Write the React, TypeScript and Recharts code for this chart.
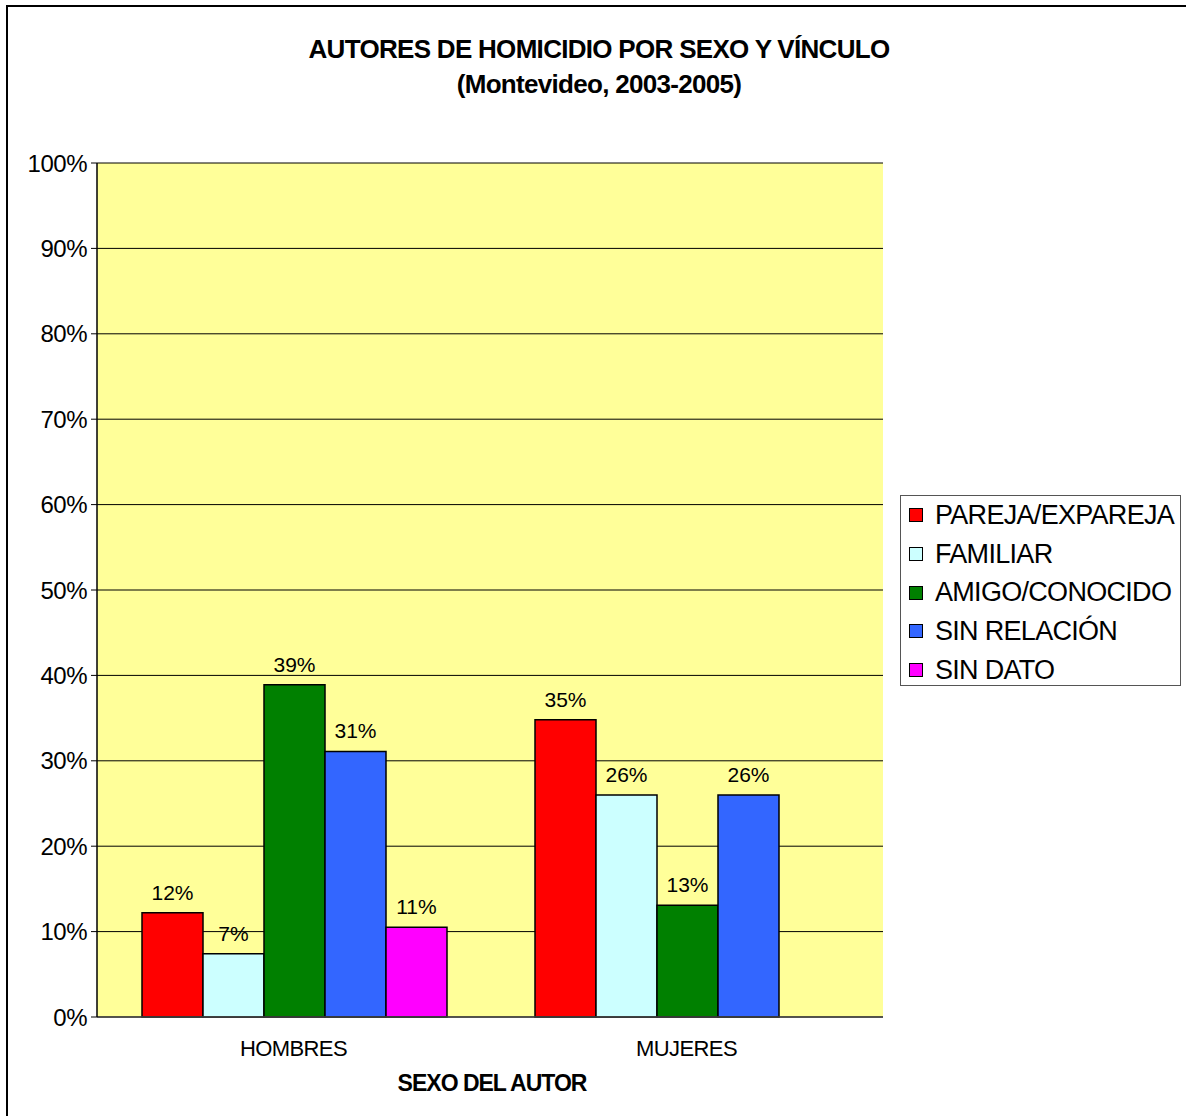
import React from "react"
import {
  Bar,
  BarChart,
  CartesianGrid,
  LabelList,
  XAxis,
  YAxis,
} from "recharts"

const categories = ["HOMBRES", "MUJERES"]

const seriesNames = [
  "PAREJA/EXPAREJA",
  "FAMILIAR",
  "AMIGO/CONOCIDO",
  "SIN RELACIÓN",
  "SIN DATO",
]
const seriesKeys = ["pareja", "familiar", "amigo", "sinRelacion", "sinDato"]
const seriesColors = ["#FF0000", "#CCFFFF", "#008000", "#3366FF", "#FF00FF"]

// percent values per sex, in category order
const pareja = [12.2, 34.8]
const familiar = [7.4, 26.0]
const amigo = [38.9, 13.1]
const sinRelacion = [31.1, 26.0]
const sinDato = [10.5, null]

const yTicks = [0, 10, 20, 30, 40, 50, 60, 70, 80, 90, 100]

const seriesValues = [pareja, familiar, amigo, sinRelacion, sinDato]

const data = categories.map((name, i) => {
  const row: Record<string, any> = { name, pos: i + 0.5 }
  seriesKeys.forEach((k, s) => {
    row[k] = seriesValues[s][i]
  })
  return row
})

const FONT = '"Liberation Sans", Arial, sans-serif'

function Legend() {
  return (
    <div
      style={{
        position: "absolute",
        left: 900,
        top: 495,
        width: 281,
        height: 191,
        border: "1px solid #555",
        background: "#fff",
        boxSizing: "border-box",
        paddingTop: 0,
      }}
    >
      {seriesNames.map((n, i) => (
        <div
          key={n}
          style={{
            display: "flex",
            alignItems: "center",
            height: 38.7,
            paddingLeft: 8,
          }}
        >
          <div
            style={{
              width: 12,
              height: 12,
              background: seriesColors[i],
              border: "1px solid #000",
              marginRight: 12,
            }}
          />
          <span
            style={{
              fontFamily: FONT,
              fontSize: 27,
              letterSpacing: -0.7,
              color: "#000",
              whiteSpace: "nowrap",
            }}
          >
            {n}
          </span>
        </div>
      ))}
    </div>
  )
}

export default function App() {
  return (
    <div
      style={{
        position: "absolute",
        left: 0,
        top: 0,
        width: 1186,
        height: 1116,
        background: "#fff",
        overflow: "hidden",
        fontFamily: FONT,
      }}
    >
      <div style={{ position: "absolute", left: 6, top: 5, width: 1180, height: 2, background: "#000" }} />
      <div style={{ position: "absolute", left: 6, top: 5, width: 2, height: 1111, background: "#000" }} />
      <div
        style={{
          position: "absolute",
          left: 0,
          width: 1198,
          top: 32,
          textAlign: "center",
          fontWeight: "bold",
          fontSize: 26,
          letterSpacing: -0.7,
          lineHeight: "35px",
          color: "#000",
        }}
      >
        <div>AUTORES DE HOMICIDIO POR SEXO Y VÍNCULO</div>
        <div>(Montevideo, 2003-2005)</div>
      </div>
      <div style={{ position: "absolute", left: 0, top: 0 }}>
        <BarChart
          width={1186}
          height={1116}
          data={data}
          margin={{ top: 163, right: 303, bottom: 0, left: 0 }}
          barCategoryGap={45}
          barGap={0}
        >
          <CartesianGrid
            xAxisId="a"
            vertical={false}
            stroke="#000"
            strokeWidth={1}
            fill="#FFFF99"
            fillOpacity={1}
          />
          <XAxis
            xAxisId="a"
            dataKey="name"
            height={99}
            tickLine={false}
            axisLine={{ stroke: "#444", strokeWidth: 1.5 }}
            tickSize={6}
            tickMargin={17}
            tick={{ fontSize: 22, fill: "#000", fontFamily: FONT, letterSpacing: -0.6 }}
          />
          <XAxis
            xAxisId="b"
            type="number"
            dataKey="pos"
            domain={[0, 2]}
            ticks={[0, 1, 2]}
            height={0}
            tick={false}
            axisLine={false}
            tickSize={7}
            tickLine={{ stroke: "#444" }}
          />
          <XAxis
            xAxisId="t"
            orientation="top"
            dataKey="name"
            height={0}
            tick={false}
            tickLine={false}
            axisLine={{ stroke: "#888", strokeWidth: 2 }}
          />
          <YAxis
            domain={[0, 100]}
            ticks={yTicks}
            width={97}
            tickSize={6}
            tickMargin={4}
            interval={0}
            tickFormatter={(v: number) => `${v}%`}
            axisLine={{ stroke: "#000", strokeWidth: 1.5 }}
            tickLine={{ stroke: "#000" }}
            tick={{ fontSize: 24, fill: "#000", fontFamily: FONT, letterSpacing: -0.5 }}
          />
          <YAxis
            yAxisId="r"
            orientation="right"
            width={0}
            domain={[0, 100]}
            tick={false}
            tickLine={false}
            axisLine={{ stroke: "#888", strokeWidth: 2 }}
          />
          {seriesKeys.map((k, i) => (
            <Bar
              key={k}
              xAxisId="a"
              dataKey={k}
              name={seriesNames[i]}
              fill={seriesColors[i]}
              stroke="#000"
              strokeWidth={1.5}
              isAnimationActive={false}
            >
              <LabelList
                dataKey={k}
                position="top"
                offset={13}
                formatter={(v: any) => (v == null ? "" : `${Math.round(v)}%`)}
                style={{ fontSize: 21, fill: "#000", fontFamily: FONT }}
              />
            </Bar>
          ))}
        </BarChart>
      </div>
      <div
        style={{
          position: "absolute",
          left: 0,
          width: 984,
          top: 1070,
          textAlign: "center",
          fontWeight: "bold",
          fontSize: 23,
          letterSpacing: -1,
          color: "#000",
        }}
      >
        SEXO DEL AUTOR
      </div>
      <Legend />
    </div>
  )
}
